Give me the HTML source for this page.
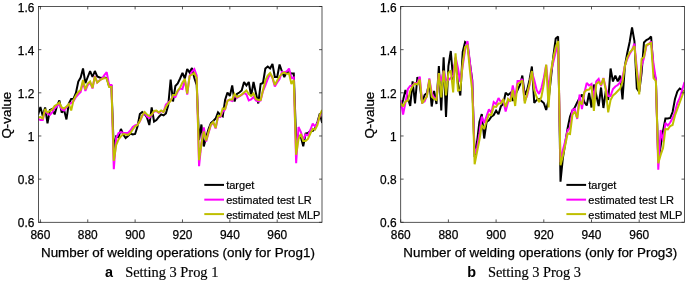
<!DOCTYPE html>
<html><head><meta charset="utf-8"><title>Q-value estimation</title>
<style>
html,body{margin:0;padding:0;background:#fff;}
svg{display:block;font-family:"Liberation Sans",sans-serif;}
</style></head>
<body>
<svg width="685" height="281" viewBox="0 0 685 281">
<rect width="685" height="281" fill="#fff"/>
<clipPath id="c1"><rect x="38.45" y="6.5" width="283.55" height="215.8"/></clipPath>
<g clip-path="url(#c1)" fill="none" stroke-width="2.0" stroke-linejoin="miter" stroke-miterlimit="2">
<polyline stroke="#000000" points="38.03,114.90 40.40,107.00 42.77,115.90 45.14,107.50 47.50,123.40 49.87,110.00 52.24,109.00 54.61,114.40 56.98,106.00 59.34,100.50 61.71,112.50 64.08,110.00 66.45,119.40 68.82,103.50 71.18,99.00 73.55,98.70 75.92,93.00 78.29,81.50 80.66,77.50 83.02,68.50 85.39,83.20 87.76,77.00 90.13,71.00 92.50,77.00 94.86,71.00 97.23,76.50 99.60,77.50 101.97,78.00 104.34,77.50 106.70,78.00 109.07,86.00 111.44,86.00 113.81,150.00 116.18,136.50 118.54,137.50 120.91,129.00 123.28,134.50 125.65,138.00 128.02,136.00 130.38,133.50 132.75,134.50 135.12,134.00 137.49,126.50 139.86,114.00 142.22,112.00 144.59,114.00 146.96,117.50 149.33,125.00 151.70,107.50 154.06,121.50 156.43,120.00 158.80,117.00 161.17,114.40 163.54,115.40 165.90,113.40 168.27,105.00 170.64,79.50 173.01,101.50 175.38,86.00 177.74,83.50 180.11,78.50 182.48,73.00 184.85,78.50 187.22,69.00 189.58,72.50 191.95,68.00 194.32,78.00 196.69,85.00 199.06,140.00 201.42,124.50 203.79,146.50 206.16,137.00 208.53,129.00 210.90,123.00 213.26,121.00 215.63,118.50 218.00,112.40 220.37,115.00 222.74,116.40 225.10,100.00 227.47,92.50 229.84,96.00 232.21,85.50 234.58,101.50 236.94,94.00 239.31,92.50 241.68,90.50 244.05,82.00 246.42,85.50 248.78,82.00 251.15,96.00 253.52,82.00 255.89,93.00 258.26,103.50 260.62,84.00 262.99,83.00 265.36,68.50 267.73,66.50 270.10,68.50 272.46,64.00 274.83,77.00 277.20,77.00 279.57,64.50 281.94,71.50 284.30,77.00 286.67,72.00 289.04,72.50 291.41,73.50 293.78,73.50 296.14,140.00 298.51,136.00 300.88,137.00 303.25,146.30 305.62,133.50 307.98,133.00 310.35,131.00 312.72,131.00 315.09,128.00 317.46,122.00 319.82,113.50 322.19,123.00"/>
<polyline stroke="#ff00ff" points="38.03,119.00 40.40,120.00 42.77,120.00 45.14,110.00 47.50,113.50 49.87,115.00 52.24,112.50 54.61,108.50 56.98,106.00 59.34,104.50 61.71,109.50 64.08,110.50 66.45,107.50 68.82,104.50 71.18,103.00 73.55,101.00 75.92,97.00 78.29,94.40 80.66,92.00 83.02,82.00 85.39,91.00 87.76,85.00 90.13,82.50 92.50,88.50 94.86,76.00 97.23,82.50 99.60,80.50 101.97,78.50 104.34,75.00 106.70,72.20 109.07,85.00 111.44,85.00 113.81,169.20 116.18,138.00 118.54,133.00 120.91,132.00 123.28,133.00 125.65,133.00 128.02,133.00 130.38,130.50 132.75,127.00 135.12,125.50 137.49,124.50 139.86,121.50 142.22,116.00 144.59,112.50 146.96,116.50 149.33,118.00 151.70,115.00 154.06,111.50 156.43,111.00 158.80,113.00 161.17,111.00 163.54,112.00 165.90,104.50 168.27,102.50 170.64,100.50 173.01,96.00 175.38,97.00 177.74,91.50 180.11,88.50 182.48,89.00 184.85,80.00 187.22,94.50 189.58,76.00 191.95,71.50 194.32,69.00 196.69,75.50 199.06,166.20 201.42,143.00 203.79,127.50 206.16,141.50 208.53,133.00 210.90,125.00 213.26,122.50 215.63,128.50 218.00,117.00 220.37,117.00 222.74,111.50 225.10,109.50 227.47,100.50 229.84,100.00 232.21,101.00 234.58,95.00 236.94,98.00 239.31,96.50 241.68,95.00 244.05,93.00 246.42,94.50 248.78,100.50 251.15,99.50 253.52,97.00 255.89,100.50 258.26,101.50 260.62,100.50 262.99,91.00 265.36,85.50 267.73,79.00 270.10,73.50 272.46,78.00 274.83,86.50 277.20,82.50 279.57,79.00 281.94,72.00 284.30,72.50 286.67,71.50 289.04,68.50 291.41,78.00 293.78,77.50 296.14,163.20 298.51,127.00 300.88,132.00 303.25,139.50 305.62,134.50 307.98,135.50 310.35,130.00 312.72,123.50 315.09,126.50 317.46,123.00 319.82,116.00 322.19,112.00"/>
<polyline stroke="#bfbf00" points="38.03,117.40 40.40,117.10 42.77,118.40 45.14,109.00 47.50,112.50 49.87,111.00 52.24,109.50 54.61,106.00 56.98,104.50 59.34,102.50 61.71,107.50 64.08,108.50 66.45,106.50 68.82,104.00 71.18,110.50 73.55,100.00 75.92,95.50 78.29,92.00 80.66,90.00 83.02,80.00 85.39,89.50 87.76,83.50 90.13,81.50 92.50,88.00 94.86,76.50 97.23,82.50 99.60,80.50 101.97,79.00 104.34,78.00 106.70,78.50 109.07,87.00 111.44,87.00 113.81,160.80 116.18,145.00 118.54,139.40 120.91,136.40 123.28,134.00 125.65,134.50 128.02,135.00 130.38,133.00 132.75,129.50 135.12,126.50 137.49,125.00 139.86,121.00 142.22,115.50 144.59,112.00 146.96,114.50 149.33,116.00 151.70,114.50 154.06,111.00 156.43,110.50 158.80,112.50 161.17,110.50 163.54,112.00 165.90,107.00 168.27,103.50 170.64,101.00 173.01,95.00 175.38,95.00 177.74,90.50 180.11,87.50 182.48,82.50 184.85,79.00 187.22,93.50 189.58,76.00 191.95,74.50 194.32,73.00 196.69,78.00 199.06,160.20 201.42,144.00 203.79,131.50 206.16,140.50 208.53,132.00 210.90,124.50 213.26,122.00 215.63,128.00 218.00,116.00 220.37,116.00 222.74,108.50 225.10,109.00 227.47,101.00 229.84,99.50 232.21,99.50 234.58,94.00 236.94,97.00 239.31,96.00 241.68,94.50 244.05,92.50 246.42,90.50 248.78,94.00 251.15,96.00 253.52,93.50 255.89,99.00 258.26,100.00 260.62,100.00 262.99,90.00 265.36,80.50 267.73,75.50 270.10,73.00 272.46,77.50 274.83,85.00 277.20,80.50 279.57,76.50 281.94,73.50 284.30,72.50 286.67,74.00 289.04,73.50 291.41,84.00 293.78,80.00 296.14,154.80 298.51,139.00 300.88,134.00 303.25,141.00 305.62,141.00 307.98,139.00 310.35,133.50 312.72,129.00 315.09,129.50 317.46,125.00 319.82,115.00 322.19,110.00"/>
</g>
<rect x="38.45" y="6.5" width="283.55" height="215.8" fill="none" stroke="#262626" stroke-width="0.78"/>
<path d="M40.40 222.3v-2.9M40.40 6.5v2.9M87.76 222.3v-2.9M87.76 6.5v2.9M135.12 222.3v-2.9M135.12 6.5v2.9M182.48 222.3v-2.9M182.48 6.5v2.9M229.84 222.3v-2.9M229.84 6.5v2.9M277.20 222.3v-2.9M277.20 6.5v2.9M38.45 6.50h2.9M322.0 6.50h-2.9M38.45 49.66h2.9M322.0 49.66h-2.9M38.45 92.82h2.9M322.0 92.82h-2.9M38.45 135.98h2.9M322.0 135.98h-2.9M38.45 179.14h2.9M322.0 179.14h-2.9M38.45 222.30h2.9M322.0 222.30h-2.9" stroke="#262626" stroke-width="0.78" fill="none"/>
<g font-size="11.9" fill="#000" stroke="#000" stroke-width="0.25">
<text x="40.40" y="239.0" text-anchor="middle">860</text>
<text x="87.76" y="239.0" text-anchor="middle">880</text>
<text x="135.12" y="239.0" text-anchor="middle">900</text>
<text x="182.48" y="239.0" text-anchor="middle">920</text>
<text x="229.84" y="239.0" text-anchor="middle">940</text>
<text x="277.20" y="239.0" text-anchor="middle">960</text>
<text x="34.35" y="11.55" text-anchor="end">1.6</text>
<text x="34.35" y="54.71" text-anchor="end">1.4</text>
<text x="34.35" y="97.87" text-anchor="end">1.2</text>
<text x="34.35" y="141.03" text-anchor="end">1</text>
<text x="34.35" y="184.19" text-anchor="end">0.8</text>
<text x="34.35" y="227.35" text-anchor="end">0.6</text>
</g>
<text x="41.0" y="257" font-size="13.4" fill="#000" stroke="#000" stroke-width="0.25">Number of welding operations (only for Prog1)</text>
<text transform="translate(11.4 138.6) rotate(-90)" font-size="13.4" fill="#000" stroke="#000" stroke-width="0.25">Q-value</text>
<path d="M204.3 184.9h19.7" stroke="#000000" stroke-width="2.0"/>
<text x="226.2" y="189.4" font-size="11" fill="#000" stroke="#000" stroke-width="0.2">target</text>
<path d="M204.3 199.65h19.7" stroke="#ff00ff" stroke-width="2.0"/>
<text x="226.2" y="204.2" font-size="11" fill="#000" stroke="#000" stroke-width="0.2">estimated test LR</text>
<path d="M204.3 214.1h19.7" stroke="#bfbf00" stroke-width="2.0"/>
<text x="226.2" y="218.6" font-size="11" fill="#000" stroke="#000" stroke-width="0.2">estimated test MLP</text>
<text x="105.0" y="277.2" font-size="14.4" font-weight="bold" fill="#000">a</text>
<text x="125.2" y="277.2" font-size="14.4" font-family="'Liberation Serif', serif" fill="#000" stroke="#000" stroke-width="0.15">Setting 3 Prog 1</text>
<clipPath id="c2"><rect x="400.7" y="6.5" width="283.7" height="215.8"/></clipPath>
<g clip-path="url(#c2)" fill="none" stroke-width="2.0" stroke-linejoin="miter" stroke-miterlimit="2">
<polyline stroke="#000000" points="400.70,108.00 403.08,100.00 405.47,90.00 407.85,98.00 410.24,106.00 412.62,81.40 415.01,103.50 417.39,77.00 419.78,85.00 422.16,103.00 424.55,95.00 426.94,93.00 429.32,82.00 431.70,106.50 434.09,91.00 436.47,104.00 438.86,66.00 441.25,110.50 443.63,57.40 446.01,117.00 448.40,66.00 450.78,51.00 453.17,80.00 455.56,58.00 457.94,84.00 460.32,95.50 462.71,52.00 465.09,42.00 467.48,44.00 469.87,63.00 472.25,80.00 474.63,157.00 477.02,142.00 479.40,122.00 481.79,114.00 484.17,138.50 486.56,122.00 488.94,120.30 491.33,116.70 493.71,115.00 496.10,110.60 498.49,114.20 500.87,106.40 503.25,104.00 505.64,92.70 508.02,95.00 510.41,93.00 512.79,101.00 515.18,95.00 517.56,90.00 519.95,85.00 522.34,75.50 524.72,95.00 527.11,90.00 529.49,80.00 531.88,66.50 534.26,103.00 536.64,100.00 539.03,99.00 541.41,101.00 543.80,103.00 546.18,110.00 548.57,100.00 550.95,78.00 553.34,56.00 555.72,38.50 558.11,36.50 560.50,181.70 562.88,158.00 565.26,143.00 567.65,128.00 570.03,116.50 572.42,110.50 574.80,107.50 577.19,102.50 579.57,98.00 581.96,94.50 584.35,102.00 586.73,105.50 589.12,93.00 591.50,107.50 593.88,84.50 596.27,95.00 598.65,106.00 601.04,87.50 603.42,108.00 605.81,91.00 608.19,100.00 610.58,68.50 612.96,81.50 615.35,75.50 617.73,81.50 620.12,75.50 622.50,99.50 624.89,66.00 627.27,53.00 629.66,42.00 632.04,27.50 634.43,41.00 636.81,88.50 639.20,92.00 641.59,73.00 643.97,42.50 646.36,40.00 648.74,39.00 651.12,36.50 653.51,70.00 655.89,80.00 658.28,161.00 660.66,146.00 663.05,131.00 665.43,118.50 667.82,118.50 670.20,118.00 672.59,112.00 674.97,99.00 677.36,91.50 679.74,88.50 682.13,90.00 684.51,93.00"/>
<polyline stroke="#ff00ff" points="400.70,100.00 403.08,114.50 405.47,102.50 407.85,89.00 410.24,86.00 412.62,85.50 415.01,83.00 417.39,83.00 419.78,76.50 422.16,102.50 424.55,101.50 426.94,96.00 429.32,78.50 431.70,93.00 434.09,97.50 436.47,99.50 438.86,73.50 441.25,81.00 443.63,71.00 446.01,80.00 448.40,80.00 450.78,78.00 453.17,75.00 455.56,57.00 457.94,68.00 460.32,82.00 462.71,66.00 465.09,50.00 467.48,41.00 469.87,62.00 472.25,82.00 474.63,154.00 477.02,148.00 479.40,134.00 481.79,116.70 484.17,123.00 486.56,116.00 488.94,109.30 491.33,113.00 493.71,102.00 496.10,104.00 498.49,98.00 500.87,102.00 503.25,100.00 505.64,111.50 508.02,102.00 510.41,100.00 512.79,85.50 515.18,98.00 517.56,81.00 519.95,81.00 522.34,79.00 524.72,101.00 527.11,96.00 529.49,85.00 531.88,72.00 534.26,80.00 536.64,90.00 539.03,94.00 541.41,88.00 543.80,78.00 546.18,65.00 548.57,90.00 550.95,72.00 553.34,62.00 555.72,52.00 558.11,44.00 560.50,162.30 562.88,150.00 565.26,141.00 567.65,130.00 570.03,128.00 572.42,110.00 574.80,109.00 577.19,119.00 579.57,94.50 581.96,109.00 584.35,93.00 586.73,83.00 589.12,85.50 591.50,84.00 593.88,98.00 596.27,81.50 598.65,79.00 601.04,86.00 603.42,78.00 605.81,88.00 608.19,96.00 610.58,96.00 612.96,89.00 615.35,86.50 617.73,85.00 620.12,82.50 622.50,77.00 624.89,66.00 627.27,59.00 629.66,54.00 632.04,50.00 634.43,43.50 636.81,68.00 639.20,90.00 641.59,66.00 643.97,58.00 646.36,46.00 648.74,44.00 651.12,41.50 653.51,64.00 655.89,79.00 658.28,169.80 660.66,130.00 663.05,141.00 665.43,123.00 667.82,125.50 670.20,122.50 672.59,118.00 674.97,112.00 677.36,103.00 679.74,98.00 682.13,90.00 684.51,82.00"/>
<polyline stroke="#bfbf00" points="400.70,103.00 403.08,106.50 405.47,101.50 407.85,100.50 410.24,91.00 412.62,86.00 415.01,83.40 417.39,84.40 419.78,79.50 422.16,103.50 424.55,99.50 426.94,96.50 429.32,79.50 431.70,96.50 434.09,99.00 436.47,100.00 438.86,73.00 441.25,97.50 443.63,70.50 446.01,95.50 448.40,73.00 450.78,70.50 453.17,92.50 455.56,53.40 457.94,90.50 460.32,90.00 462.71,63.00 465.09,47.00 467.48,45.50 469.87,70.00 472.25,91.00 474.63,164.20 477.02,152.00 479.40,140.00 481.79,125.00 484.17,129.00 486.56,121.00 488.94,114.50 491.33,115.00 493.71,106.50 496.10,107.00 498.49,103.50 500.87,103.50 503.25,99.00 505.64,107.00 508.02,99.00 510.41,101.50 512.79,90.00 515.18,106.00 517.56,84.00 519.95,82.50 522.34,80.50 524.72,103.50 527.11,94.00 529.49,84.00 531.88,71.00 534.26,90.00 536.64,97.00 539.03,102.00 541.41,97.00 543.80,84.00 546.18,64.50 548.57,107.50 550.95,71.00 553.34,58.00 555.72,47.00 558.11,41.00 560.50,165.30 562.88,156.00 565.26,145.00 567.65,133.50 570.03,134.00 572.42,115.00 574.80,111.50 577.19,118.00 579.57,101.00 581.96,104.50 584.35,92.00 586.73,90.00 589.12,89.50 591.50,86.00 593.88,111.00 596.27,84.00 598.65,82.00 601.04,85.00 603.42,78.30 605.81,90.50 608.19,112.40 610.58,100.00 612.96,95.50 615.35,93.50 617.73,91.00 620.12,88.50 622.50,82.00 624.89,66.00 627.27,57.50 629.66,52.50 632.04,50.00 634.43,46.00 636.81,72.00 639.20,94.50 641.59,59.00 643.97,57.00 646.36,45.00 648.74,44.00 651.12,43.00 653.51,78.00 655.89,81.00 658.28,163.30 660.66,155.00 663.05,148.00 665.43,129.00 667.82,129.50 670.20,126.00 672.59,125.00 674.97,115.50 677.36,109.00 679.74,102.50 682.13,96.00 684.51,90.00"/>
</g>
<rect x="400.7" y="6.5" width="283.7" height="215.8" fill="none" stroke="#262626" stroke-width="0.78"/>
<path d="M400.70 222.3v-2.9M400.70 6.5v2.9M448.40 222.3v-2.9M448.40 6.5v2.9M496.10 222.3v-2.9M496.10 6.5v2.9M543.80 222.3v-2.9M543.80 6.5v2.9M591.50 222.3v-2.9M591.50 6.5v2.9M639.20 222.3v-2.9M639.20 6.5v2.9M400.7 6.50h2.9M684.4 6.50h-2.9M400.7 49.66h2.9M684.4 49.66h-2.9M400.7 92.82h2.9M684.4 92.82h-2.9M400.7 135.98h2.9M684.4 135.98h-2.9M400.7 179.14h2.9M684.4 179.14h-2.9M400.7 222.30h2.9M684.4 222.30h-2.9" stroke="#262626" stroke-width="0.78" fill="none"/>
<g font-size="11.9" fill="#000" stroke="#000" stroke-width="0.25">
<text x="400.70" y="239.0" text-anchor="middle">860</text>
<text x="448.40" y="239.0" text-anchor="middle">880</text>
<text x="496.10" y="239.0" text-anchor="middle">900</text>
<text x="543.80" y="239.0" text-anchor="middle">920</text>
<text x="591.50" y="239.0" text-anchor="middle">940</text>
<text x="639.20" y="239.0" text-anchor="middle">960</text>
<text x="396.60" y="11.55" text-anchor="end">1.6</text>
<text x="396.60" y="54.71" text-anchor="end">1.4</text>
<text x="396.60" y="97.87" text-anchor="end">1.2</text>
<text x="396.60" y="141.03" text-anchor="end">1</text>
<text x="396.60" y="184.19" text-anchor="end">0.8</text>
<text x="396.60" y="227.35" text-anchor="end">0.6</text>
</g>
<text x="403.3" y="257" font-size="13.4" fill="#000" stroke="#000" stroke-width="0.25">Number of welding operations (only for Prog3)</text>
<text transform="translate(373.7 138.6) rotate(-90)" font-size="13.4" fill="#000" stroke="#000" stroke-width="0.25">Q-value</text>
<path d="M566.4 184.9h19.7" stroke="#000000" stroke-width="2.0"/>
<text x="588.3" y="189.4" font-size="11" fill="#000" stroke="#000" stroke-width="0.2">target</text>
<path d="M566.4 199.65h19.7" stroke="#ff00ff" stroke-width="2.0"/>
<text x="588.3" y="204.2" font-size="11" fill="#000" stroke="#000" stroke-width="0.2">estimated test LR</text>
<path d="M566.4 214.1h19.7" stroke="#bfbf00" stroke-width="2.0"/>
<text x="588.3" y="218.6" font-size="11" fill="#000" stroke="#000" stroke-width="0.2">estimated test MLP</text>
<text x="467.3" y="277.2" font-size="14.4" font-weight="bold" fill="#000">b</text>
<text x="487.9" y="277.2" font-size="14.4" font-family="'Liberation Serif', serif" fill="#000" stroke="#000" stroke-width="0.15">Setting 3 Prog 3</text>
</svg>
</body></html>
